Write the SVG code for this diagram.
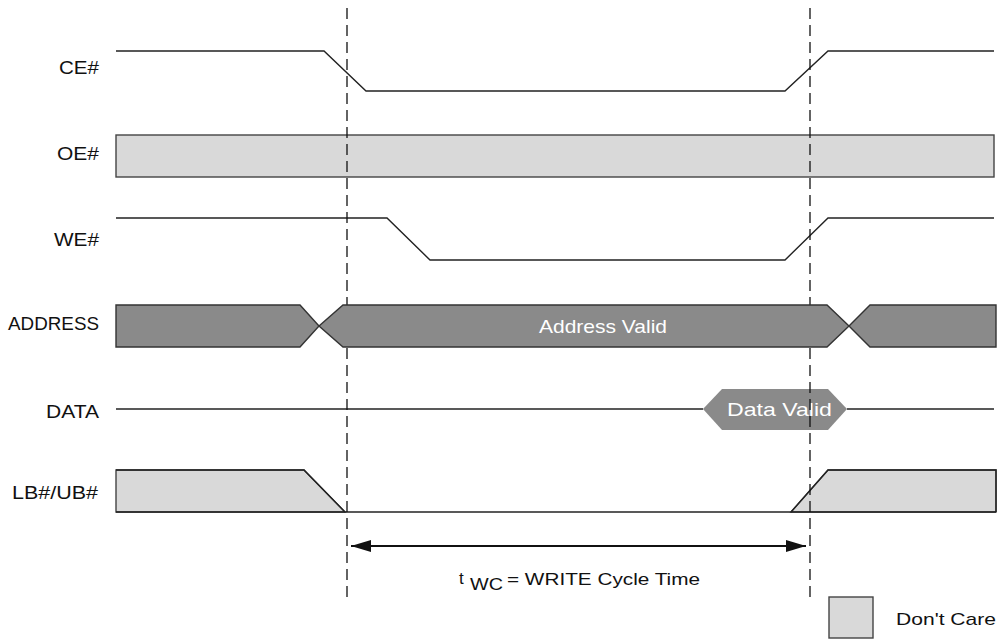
<svg xmlns="http://www.w3.org/2000/svg" width="1000" height="642" viewBox="0 0 1000 642">
<style>
.lbl{font-family:"Liberation Sans",Arial,sans-serif;font-size:18.5px;fill:#111;text-anchor:end}
.sig{fill:none;stroke:#222;stroke-width:1.4}
.dc{fill:#d9d9d9;stroke:#444;stroke-width:1.4}
.bus{fill:#8a8a8a;stroke:#333;stroke-width:1.4}
.wt{font-family:"Liberation Sans",Arial,sans-serif;font-size:19px;fill:#fff}
.cap{font-family:"Liberation Sans",Arial,sans-serif;font-size:17px;fill:#111}
.dash{stroke:#111;stroke-width:1.3;stroke-dasharray:11,6;fill:none}
</style>
<defs>
<marker id="ah" viewBox="0 0 20 12" refX="20" refY="6" markerWidth="20" markerHeight="12" markerUnits="userSpaceOnUse" orient="auto-start-reverse">
<path d="M0,0 L20,6 L0,12 Z" fill="#111"/>
</marker>
</defs>
<rect width="1000" height="642" fill="#fff"/>
<g id="labels">
<text class="lbl" x="99" y="74" textLength="40" lengthAdjust="spacingAndGlyphs">CE#</text>
<text class="lbl" x="99" y="160" textLength="42" lengthAdjust="spacingAndGlyphs">OE#</text>
<text class="lbl" x="99" y="246" textLength="45" lengthAdjust="spacingAndGlyphs">WE#</text>
<text class="lbl" x="99" y="330" textLength="91" lengthAdjust="spacingAndGlyphs">ADDRESS</text>
<text class="lbl" x="99" y="418" textLength="53" lengthAdjust="spacingAndGlyphs">DATA</text>
<text class="lbl" x="98" y="499" textLength="86" lengthAdjust="spacingAndGlyphs">LB#/UB#</text>
</g>
<g id="ce">
<polyline class="sig" points="116,51 324,51 366,91 785,91 828,51 994,51"/>
</g>
<g id="oe">
<rect class="dc" x="116" y="135" width="878" height="42"/>
</g>
<g id="we">
<polyline class="sig" points="116,218 387,218 430,260 785,260 828,218 994,218"/>
</g>
<g id="lbub">
<polygon class="dc" points="116,470 304,470 345,512 116,512" stroke="none"/>
<polyline class="sig" points="116,470 304,470 345,512"/>
<polygon class="dc" points="791,512 828,470 996,470 996,512" stroke="none"/>
<polyline class="sig" points="791,512 828,470 996,470 996,512"/>
<line class="sig" x1="116" y1="512" x2="996" y2="512"/>
</g>
<g id="data">
<line class="sig" x1="116" y1="409" x2="703" y2="409"/>
<line class="sig" x1="847" y1="409" x2="994" y2="409"/>
<polygon points="703,409 722,389 828,389 847,409 828,430 722,430" fill="#8a8a8a"/>
<text class="wt" x="727" y="416" textLength="105" lengthAdjust="spacingAndGlyphs">Data Valid</text>
</g>
<g id="connectors">
<line class="dash" x1="347" y1="8" x2="347" y2="599"/>
<line class="dash" x1="810" y1="8" x2="810" y2="599"/>
<line x1="351" y1="546" x2="806" y2="546" stroke="#111" stroke-width="2" marker-start="url(#ah)" marker-end="url(#ah)"/>
</g>
<g id="address">
<polygon class="bus" points="116,305 300,305 319,326 300,347 116,347"/>
<polygon class="bus" points="319,326 343,305 827,305 849,326 827,347 343,347"/>
<polygon class="bus" points="849,326 870,305 996,305 996,347 870,347"/>
<text class="wt" x="539" y="333" textLength="128" lengthAdjust="spacingAndGlyphs">Address Valid</text>
</g>
<g id="twc">
<text class="cap" x="459" y="584" font-size="18">t</text>
<text class="cap" x="470" y="590" textLength="33" lengthAdjust="spacingAndGlyphs">WC</text>
<text class="cap" x="507" y="585" textLength="193" lengthAdjust="spacingAndGlyphs">= WRITE Cycle Time</text>
</g>
<g id="legend">
<rect class="dc" x="829" y="597" width="44" height="41"/>
<text class="cap" x="896" y="625" textLength="100" lengthAdjust="spacingAndGlyphs">Don't Care</text>
</g>
</svg>
